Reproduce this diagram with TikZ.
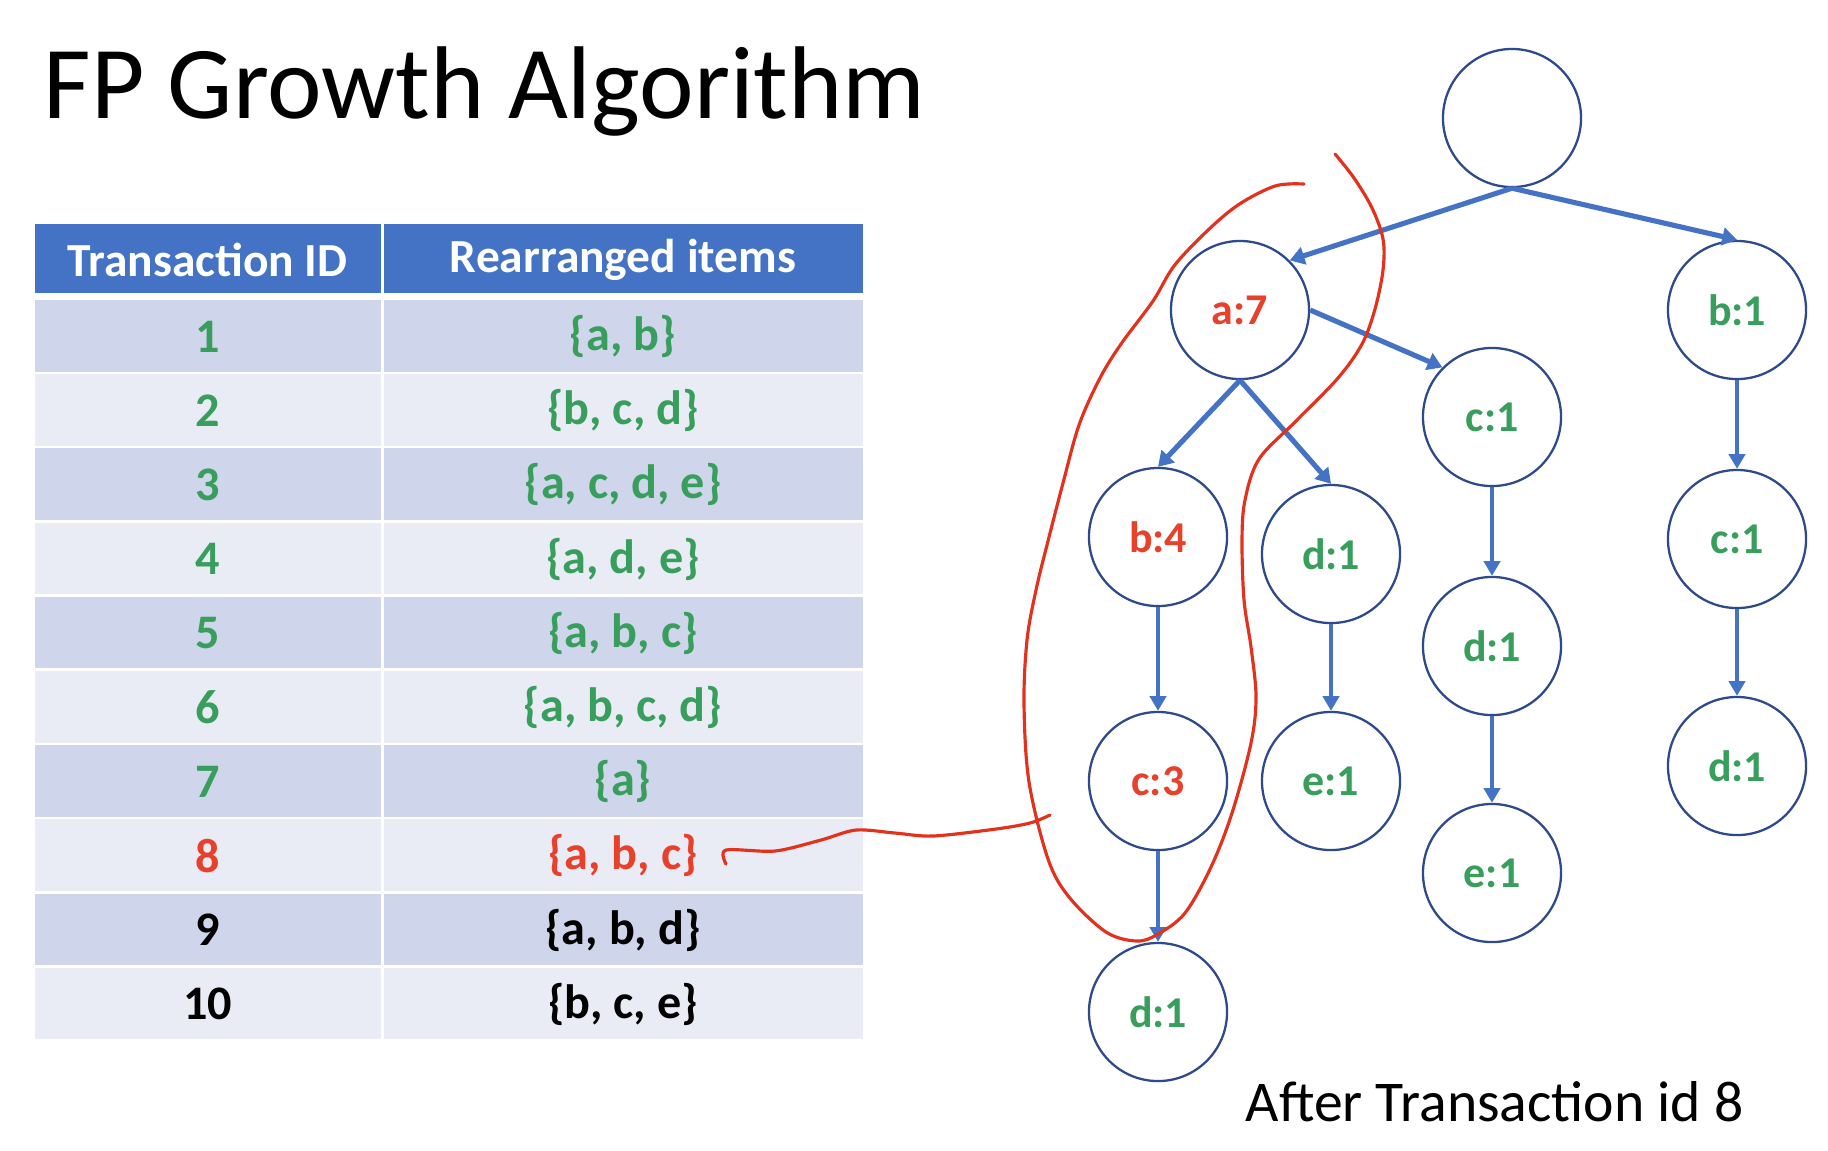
\documentclass[tikz,border=0pt]{standalone}
\usepackage{fontspec}
\setmainfont{Carlito}
\usetikzlibrary{arrows.meta}
\definecolor{hdrblue}{HTML}{4472C4}
\definecolor{rowdark}{HTML}{CFD5EA}
\definecolor{rowlight}{HTML}{E9EBF5}
\definecolor{grn}{HTML}{389E5C}
\definecolor{rd}{HTML}{E8412B}
\definecolor{inkred}{HTML}{E2311D}
\definecolor{navy}{HTML}{2E4A8B}
\definecolor{blk}{HTML}{000000}
\tikzset{
  cellbox/.style={inner sep=0pt, font=\fontsize{13.7pt}{16pt}\selectfont\bfseries},
  hdrtext/.style={inner sep=0pt, text=white, font=\fontsize{13.5pt}{16pt}\selectfont\bfseries},
  treenode/.style={circle, draw=navy, line width=0.65pt, minimum size=1.38cm, inner sep=0pt,
    font=\fontsize{12.5pt}{15pt}\selectfont\bfseries},
  thickarr/.style={draw=hdrblue, line width=1.45pt, -{Triangle[length=4.2pt,width=5pt]}},
  thinarr/.style={draw=hdrblue, line width=1.05pt, -{Triangle[length=4.2pt,width=4.6pt]}},
  inkline/.style={draw=inkred, line width=0.9pt, line cap=round, line join=round}
}
\begin{document}
\begin{tikzpicture}[x=0.01cm,y=-0.01cm]
\useasboundingbox[fill=white] (0,0) rectangle (1828,1150);

% title
\node[anchor=base west, inner sep=0pt, font=\fontsize{29.4pt}{34pt}\selectfont] (title) at (43,118) {FP Growth Algorithm};

% table header
\fill[hdrblue] (35,224) rectangle (380.5,293);
\fill[hdrblue] (383.5,224) rectangle (863,293);
\node[hdrtext] (h1) at (207.5,260) {Transaction ID};
\node[hdrtext] (h2) at (623,260) {Rearranged items};

% table rows
\foreach \i/\items/\col in {1/{\{a, b\}}/grn, 2/{\{b, c, d\}}/grn, 3/{\{a, c, d, e\}}/grn,
  4/{\{a, d, e\}}/grn, 5/{\{a, b, c\}}/grn, 6/{\{a, b, c, d\}}/grn, 7/{\{a\}}/grn,
  8/{\{a, b, c\}}/rd, 9/{\{a, b, d\}}/blk, 10/{\{b, c, e\}}/blk}{
  \pgfmathsetmacro{\top}{300+(\i-1)*74.2}
  \pgfmathsetmacro{\bot}{\top+71.5}
  \pgfmathsetmacro{\mid}{\top+36.5}
  \pgfmathtruncatemacro{\odd}{mod(\i,2)}
  \ifnum\odd=1 \def\rowcol{rowdark}\else\def\rowcol{rowlight}\fi
  \fill[\rowcol] (35,\top) rectangle (380.5,\bot);
  \fill[\rowcol] (383.5,\top) rectangle (863,\bot);
  \node[cellbox, text=\col] (id\i) at (207.5,\mid) {\i};
  \node[cellbox, text=\col] (it\i) at (623,\mid) {\items};
}

% tree nodes
\node[treenode] (root) at (1512,118) {};
\node[treenode, text=rd] (a7) at (1240,310) {a:7};
\node[treenode, text=grn] (b1) at (1737,310) {b:1};
\node[treenode, text=grn] (c1m) at (1492,417) {c:1};
\node[treenode, text=rd] (b4) at (1158,537) {b:4};
\node[treenode, text=grn] (d1a) at (1331,554) {d:1};
\node[treenode, text=grn] (c1r) at (1737,539) {c:1};
\node[treenode, text=grn] (d1m) at (1492,646) {d:1};
\node[treenode, text=rd] (c3) at (1158,781) {c:3};
\node[treenode, text=grn] (e1a) at (1331,781) {e:1};
\node[treenode, text=grn] (d1r) at (1737,766) {d:1};
\node[treenode, text=grn] (e1m) at (1492,873) {e:1};
\node[treenode, text=grn] (d1b) at (1158,1012) {d:1};

% edges
\draw[thickarr] (root.south) -- (a7.north east);
\draw[thickarr] (root.south) -- (b1.north);
\draw[thickarr] (a7.east) -- (c1m.north west);
\draw[thickarr] (a7.south) -- (b4.north);
\draw[thickarr] (a7.south) -- (d1a.north);
\draw[thinarr] (b4) -- (c3);
\draw[thinarr] (c3) -- (d1b);
\draw[thinarr] (d1a) -- (e1a);
\draw[thinarr] (c1m) -- (d1m);
\draw[thinarr] (d1m) -- (e1m);
\draw[thinarr] (b1) -- (c1r);
\draw[thinarr] (c1r) -- (d1r);

% caption
\node[anchor=base west, inner sep=0pt, font=\fontsize{16.4pt}{19pt}\selectfont] (cap) at (1245,1121) {After Transaction id 8};

% hand-drawn loop
\draw[inkline] plot[smooth, tension=0.55] coordinates {
 (1304,184) (1275,186) (1238,205) (1206,232) (1174,266) (1153,301) (1121,344)
 (1100,378) (1079,425) (1063,483) (1048,541) (1036,590) (1027,640) (1024,704)
 (1029,782) (1048,859) (1069,897) (1106,932) (1137,941) (1158,934) (1185,913)
 (1211,867) (1232,813) (1251,743) (1256,697) (1251,647) (1244,600) (1242,540)
 (1245,500) (1259,459) (1296,421) (1338,378) (1362,344) (1375,309) (1383,270)
 (1383,239) (1372,208) (1354,178) (1335,154)};

% hand-drawn connector from row 8 into loop
\coordinate (inkstart) at (726,864);
\coordinate (inkend) at (1050,815);
\draw[inkline] plot[smooth, tension=0.5] coordinates {
 (inkstart) (726,850) (775,851) (821,840) (856,830) (895,833) (933,836) (996,829) (1030,823) (inkend)};
\end{tikzpicture}
\end{document}
